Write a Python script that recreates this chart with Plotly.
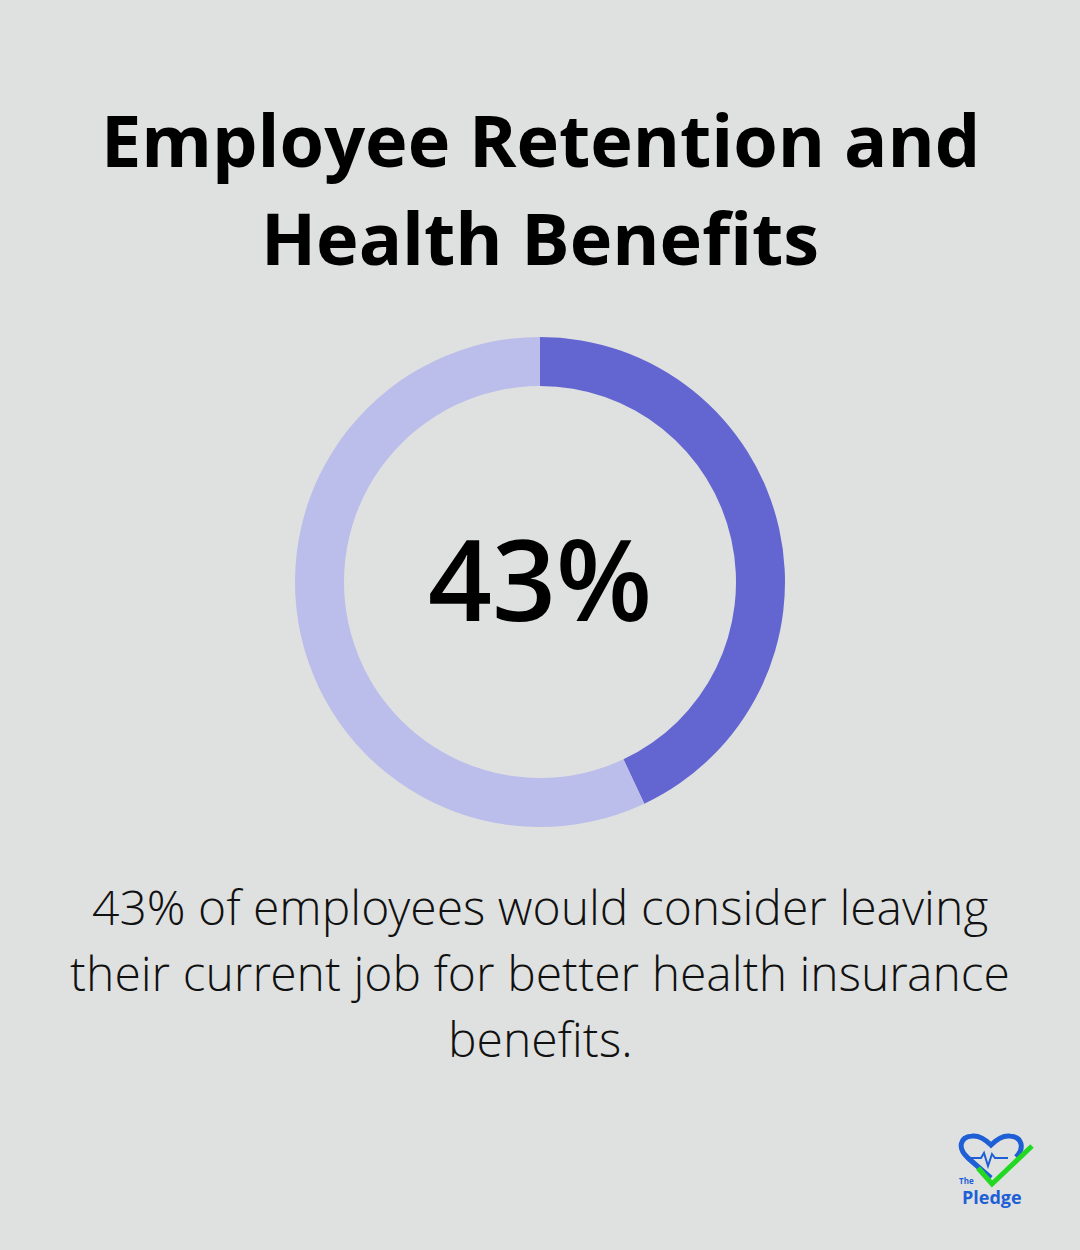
import plotly.graph_objects as go

labels = ["Would consider leaving", "Other"]
values = [43, 57]
colors = ["#6366D1", "#BBBDEA"]
title_lines = ["Employee Retention and", "Health Benefits"]
center_text = "43%"
body_lines = ["43% of employees would consider leaving",
              "their current job for better health insurance",
              "benefits."]

W, H = 1080, 1250
fig = go.Figure()
fig.add_trace(go.Pie(labels=labels, values=values, hole=0.80, sort=False,
                     direction="clockwise", rotation=0,
                     marker=dict(colors=colors, line=dict(width=0)),
                     textinfo="none", hoverinfo="label+percent", showlegend=False,
                     domain=dict(x=[0, 1], y=[1 - (582 + 245) / H, 1 - (582 - 245) / H])))

def px(x, y):
    return x / W, 1 - y / H

ann = []
for i, t in enumerate(title_lines):
    x, y = px(540, 139 + i * 98)
    ann.append(dict(x=x, y=y, text=f"<b>{t}</b>", showarrow=False,
                    font=dict(family="Open Sans", size=72, color="#000")))
x, y = px(540, 577)
ann.append(dict(x=x, y=y, text=center_text, showarrow=False,
                font=dict(family="Open Sans SemiBold, Open Sans", size=112, color="#000", weight=600)))
for i, t in enumerate(body_lines):
    x, y = px(540, 906 + i * 66)
    ann.append(dict(x=x, y=y, text=t, showarrow=False,
                    font=dict(family="Open Sans Light, Open Sans", size=48, color="#111")))
x, y = px(966, 1180)
ann.append(dict(x=x, y=y, text="<b>The</b>", showarrow=False,
                font=dict(family="Open Sans", size=8, color="#1E5FD6")))
x, y = px(992, 1197)
ann.append(dict(x=x, y=y, text="<b>Pledge</b>", showarrow=False,
                font=dict(family="Open Sans", size=18, color="#1E5FD6")))
for a in ann:
    a.update(xref="paper", yref="paper", xanchor="center", yanchor="middle")

def P(pts):
    return " ".join(f"{c}{px(x,y)[0]:.5f},{px(x,y)[1]:.5f}" for c, (x, y) in pts)

heart = P([("M", (991, 1178)), ("L", (968, 1158)), ("C", (957, 1148)), ("", (960, 1137)), ("", (972, 1136)),
           ("C", (980, 1135)), ("", (986, 1140)), ("", (991, 1145)), ("C", (996, 1140)), ("", (1002, 1135)),
           ("", (1010, 1136)), ("C", (1022, 1137)), ("", (1025, 1148)), ("", (1016, 1157))])
pulse = P([("M", (967, 1158)), ("L", (981, 1158)), ("L", (984, 1153)), ("L", (988, 1166)),
           ("L", (992, 1154)), ("L", (995, 1158)), ("L", (1008, 1158))])
check = P([("M", (978, 1168)), ("L", (992, 1184)), ("L", (1032, 1146))])
shapes = [
    dict(type="path", path=heart, xref="paper", yref="paper", line=dict(color="#1E5FD6", width=5)),
    dict(type="path", path=pulse, xref="paper", yref="paper", line=dict(color="#1E5FD6", width=2)),
    dict(type="path", path=check, xref="paper", yref="paper", line=dict(color="#22D822", width=5)),
]

fig.update_layout(width=W, height=H, margin=dict(l=0, r=0, t=0, b=0),
                  paper_bgcolor="#DFE1E0", plot_bgcolor="#DFE1E0",
                  annotations=ann, shapes=shapes)
fig.write_html("out.html", config={"displayModeBar": False},
               post_script="document.body.style.margin='0';")
